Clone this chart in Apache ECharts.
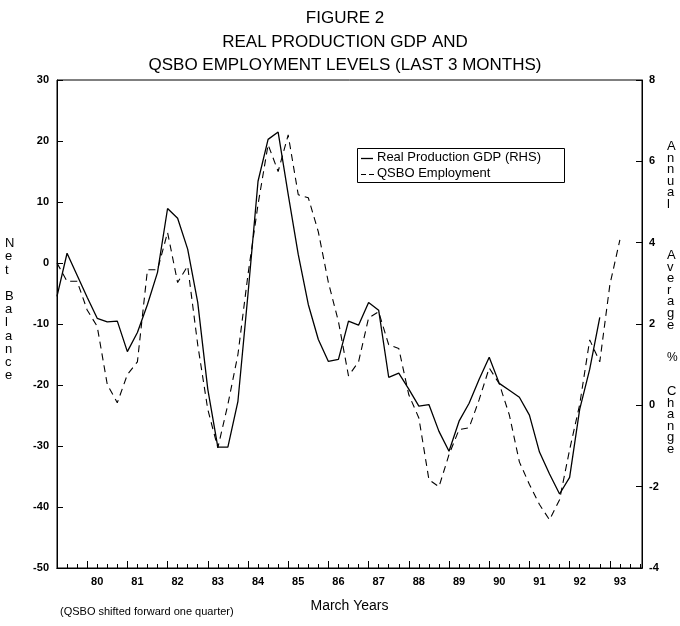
<!DOCTYPE html>
<html><head><meta charset="utf-8">
<script src="https://cdn.jsdelivr.net/npm/echarts@6/dist/echarts.min.js"></script>
<style>html,body{margin:0;padding:0;background:#fff}#c{width:680px;height:626px}</style>
</head><body><div id="c"></div>
<script>
// quarterly positions (March years)
const quarters = [79.00,79.25,79.50,79.75,80.00,80.25,80.50,80.75,81.00,81.25,81.50,81.75,
  82.00,82.25,82.50,82.75,83.00,83.25,83.50,83.75,84.00,84.25,84.50,84.75,85.00,85.25,85.50,85.75,
  86.00,86.25,86.50,86.75,87.00,87.25,87.50,87.75,88.00,88.25,88.50,88.75,89.00,89.25,89.50,89.75,
  90.00,90.25,90.50,90.75,91.00,91.25,91.50,91.75,92.00,92.25,92.50,92.75,93.00];
// Real Production GDP, annual average % change (RHS)
const gdpRHS = [2.68,3.74,3.20,2.66,2.14,2.05,2.07,1.32,1.79,2.48,3.27,4.84,
  4.60,3.84,2.53,0.40,-1.03,-1.03,0.10,2.73,5.51,6.54,6.72,5.19,3.71,2.48,1.62,1.08,
  1.13,2.07,1.97,2.53,2.34,0.69,0.79,0.40,-0.02,0.02,-0.64,-1.13,-0.39,0.05,0.64,1.18,
  0.54,0.37,0.20,-0.24,-1.15,-1.69,-2.18,-1.77,-0.10,0.89,2.16];
// QSBO employment net balance (LHS)
const qsboLHS = [0,-3,-3,-7.7,-10.4,-19.9,-22.9,-18.3,-16.2,-1.1,-1.1,5.0,
  -3.2,-0.5,-13.4,-24.0,-30.3,-23.2,-15.0,-1.9,9.6,19.4,15.0,21.0,11.2,10.7,5.1,-3.2,
  -9.6,-18.5,-16.2,-9.0,-8.0,-13.4,-14.0,-21.6,-25.4,-35.5,-36.7,-31.4,-27.3,-27.0,-22.4,-17.2,
  -19.8,-24.9,-32.6,-36.3,-39.6,-42.1,-38.8,-30.6,-23.2,-12.6,-16.2,-3.6,3.8];
const seriesNames = ['Real Production GDP (RHS)', 'QSBO Employment'];
const yearLabels = [80,81,82,83,84,85,86,87,88,89,90,91,92,93];
const yearTicks = [79.75,80.75,81.75,82.75,83.75,84.75,85.75,86.75,87.75,88.75,89.75,90.75,91.75,92.75];

const FONT = "'Liberation Sans', Arial, sans-serif";
const chart = echarts.init(document.getElementById('c'), null, {renderer:'canvas'});
const xMin = 79, xMax = 93.55;
const zip = (xs, ys) => ys.map((v, i) => [xs[i], v]);
const axisLbl = {color:'#000', fontFamily:FONT, fontWeight:'bold', fontSize:11};
chart.setOption({
  animation:false,
  backgroundColor:'#fff',
  title:{
    text:'FIGURE 2\nREAL PRODUCTION GDP AND\nQSBO EMPLOYMENT LEVELS (LAST 3 MONTHS)',
    left:340, top:2, textAlign:'center',
    textStyle:{fontFamily:FONT, fontWeight:'normal', fontSize:17, lineHeight:23.5, color:'#000'}
  },
  grid:{left:57, right:38, top:80, bottom:58, show:true, borderColor:'#000', borderWidth:1},
  xAxis:[
    {type:'value', min:xMin, max:xMax, interval:0.25, position:'bottom',
     name:'March Years', nameLocation:'middle', nameGap:31,
     nameTextStyle:{fontFamily:FONT, fontSize:14, color:'#000'},
     axisLine:{onZero:false, lineStyle:{color:'#000', width:1}},
     axisTick:{show:true, inside:true, length:4, lineStyle:{color:'#000', width:1}},
     axisLabel:Object.assign({customValues:yearLabels, margin:8, formatter:v=>String(Math.round(v))}, axisLbl),
     splitLine:{show:false}},
    {type:'value', min:xMin, max:xMax, position:'bottom', offset:0,
     axisLine:{show:true, onZero:false, lineStyle:{color:'#000', width:1}},
     axisTick:{show:true, inside:true, length:7, customValues:yearTicks, lineStyle:{color:'#000'}},
     axisLabel:{show:false},
     splitLine:{show:false}}
  ],
  yAxis:[
    {type:'value', min:-50, max:30, interval:10, position:'left',
     axisLine:{show:true, onZero:false, lineStyle:{color:'#000'}},
     axisTick:{show:true, inside:true, length:6, lineStyle:{color:'#000'}},
     axisLabel:Object.assign({margin:8}, axisLbl), splitLine:{show:false}},
    {type:'value', min:-4, max:8, interval:2, position:'right',
     axisLine:{show:true, onZero:false, lineStyle:{color:'#000'}},
     axisTick:{show:true, inside:true, length:6, lineStyle:{color:'#000'}},
     axisLabel:Object.assign({margin:7}, axisLbl), splitLine:{show:false}}
  ],
  series:[
    {name:seriesNames[0], type:'line', xAxisIndex:1, yAxisIndex:1,
     data:zip(quarters, gdpRHS), symbol:'none', showSymbol:false,
     lineStyle:{color:'#000', width:1.3, type:'solid'}, itemStyle:{color:'#000'}},
    {name:seriesNames[1], type:'line', xAxisIndex:0, yAxisIndex:0,
     data:zip(quarters, qsboLHS), symbol:'none', showSymbol:false,
     lineStyle:{color:'#000', width:1.1, type:[7,5]}, itemStyle:{color:'#000'}}
  ],
  graphic:[
    // legend box
    {type:'rect', shape:{x:357.5, y:148.5, width:207, height:34}, style:{fill:'#fff', stroke:'#000', lineWidth:1}, z:10},
    {type:'line', shape:{x1:361, y1:158.5, x2:373, y2:158.5}, style:{stroke:'#000', lineWidth:1.3}, z:11},
    {type:'line', shape:{x1:361, y1:174.5, x2:374, y2:174.5}, style:{stroke:'#000', lineWidth:1.1, lineDash:[5,3]}, z:11},
    {type:'text', left:377, top:151, z:11, style:{text:seriesNames[0], fill:'#000', font:"13px "+FONT}},
    {type:'text', left:377, top:167, z:11, style:{text:seriesNames[1], fill:'#000', font:"13px "+FONT}},
    // axis title
    {type:'text', left:5, top:237, style:{text:'N\ne\nt\n\nB\na\nl\na\nn\nc\ne', fill:'#000',
      font:"13px "+FONT, lineHeight:13.2, align:'center', width:12}},
    {type:'text', left:60, top:606, style:{text:'(QSBO shifted forward one quarter)', fill:'#000', font:"11px "+FONT}},
    {type:'text', left:667, top:140, style:{text:'A\nn\nn\nu\na\nl', fill:'#000', font:"13px "+FONT, lineHeight:11.6}},
    {type:'text', left:667, top:249, style:{text:'A\nv\ne\nr\na\ng\ne', fill:'#000', font:"13px "+FONT, lineHeight:11.6}},
    {type:'text', left:667, top:352, style:{text:'%', fill:'#000', font:"12px "+FONT}},
    {type:'text', left:667, top:385, style:{text:'C\nh\na\nn\ng\ne', fill:'#000', font:"13px "+FONT, lineHeight:11.6}}
  ]
});
</script></body></html>
